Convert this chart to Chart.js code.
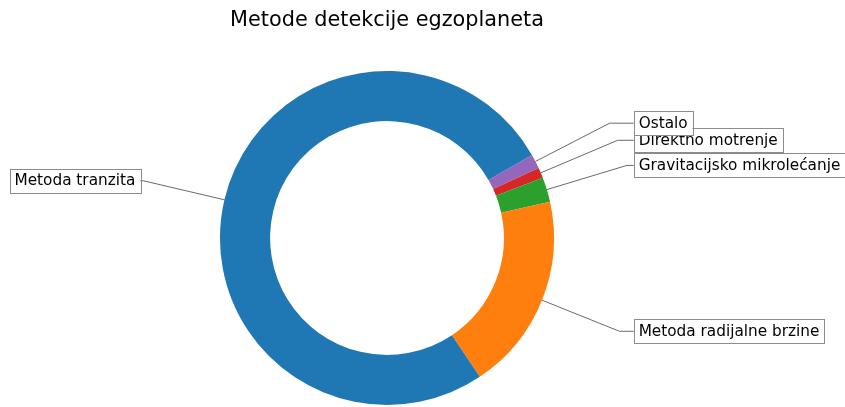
<!DOCTYPE html>
<html>
<head>
<meta charset="utf-8">
<script src="https://cdn.jsdelivr.net/npm/chart.js@4/dist/chart.umd.min.js"></script>
<style>
  html, body { margin: 0; padding: 0; background: #fff; }
  #wrap { width: 845px; height: 407px; }
</style>
</head>
<body>
<div id="wrap"><canvas id="myChart" width="845" height="407"></canvas></div>
<script>
// data in the original order (counter-clockwise in the reference)
const categories = ['Metoda tranzita', 'Metoda radijalne brzine', 'Gravitacijsko mikrolećanje', 'Direktno motrenje', 'Ostalo'];
const shares = [76.1, 19.1, 2.4, 1.0, 1.4];
const colors = ['#1f77b4', '#ff7f0e', '#2ca02c', '#d62728', '#9467bd'];
const title = 'Metode detekcije egzoplaneta';

// Chart.js draws clockwise, so flip the order
const labels = categories.slice().reverse();
const values = shares.slice().reverse();
const bg = colors.slice().reverse();

const FONT = '"DejaVu Sans", sans-serif';

const calloutPlugin = {
  id: 'callouts',
  afterDraw(chart) {
    const c = chart.ctx;
    const meta = chart.getDatasetMeta(0);

    c.save();
    c.fillStyle = '#000';
    c.font = '20.8px ' + FONT;
    c.textAlign = 'center';
    c.textBaseline = 'alphabetic';
    const first = meta.data[0];
    c.fillText(title, first.x, 26);

    c.font = '15.3px ' + FONT;
    c.textBaseline = 'alphabetic';
    // matplotlib draws annotations in the original order, so last one on top
    for (let k = meta.data.length - 1; k >= 0; k--) {
      const arc = meta.data[k];
      const r = arc.outerRadius;
      const a = (arc.startAngle + arc.endAngle) / 2;
      const px = arc.x + r * Math.cos(a);
      const py = arc.y + r * Math.sin(a);
      const ty = arc.y + 1.5 * r * Math.sin(a);
      const right = Math.cos(a) >= 0;
      const edge = arc.x + (right ? 1 : -1) * 1.478 * r;
      const t = (ty - py) / Math.sin(a);
      let cx = px + t * Math.cos(a);

      c.strokeStyle = '#444';
      c.lineWidth = 0.8;
      c.beginPath();
      c.moveTo(px, py);
      c.lineTo(cx, ty);
      c.lineTo(edge, ty);
      c.stroke();

      const txt = labels[k];
      const w = c.measureText(txt).width;
      const pad = 4.8;
      const bx = right ? edge : edge - w - 2 * pad;
      c.fillStyle = '#fff';
      c.fillRect(bx, ty - 12, w + 2 * pad, 24);
      c.strokeStyle = '#8c8c8c';
      c.lineWidth = 1;
      c.strokeRect(Math.round(bx) + 0.5, Math.round(ty - 12) + 0.5, Math.round(w + 2 * pad), 24);
      c.fillStyle = '#000';
      c.textAlign = 'left';
      c.fillText(txt, bx + pad, ty + 4.6);
    }
    c.restore();
  }
};

new Chart(document.getElementById('myChart'), {
  type: 'doughnut',
  data: {
    labels: labels,
    datasets: [{
      data: values,
      backgroundColor: bg,
      borderWidth: 0,
      hoverOffset: 0
    }]
  },
  options: {
    responsive: false,
    animation: false,
    rotation: 60.2,
    cutout: '70%',
    layout: { padding: { top: 71, bottom: 2, left: 220, right: 291 } },
    plugins: {
      legend: { display: false },
      tooltip: { enabled: false },
      title: { display: false }
    }
  },
  plugins: [calloutPlugin]
});
</script>
</body>
</html>
